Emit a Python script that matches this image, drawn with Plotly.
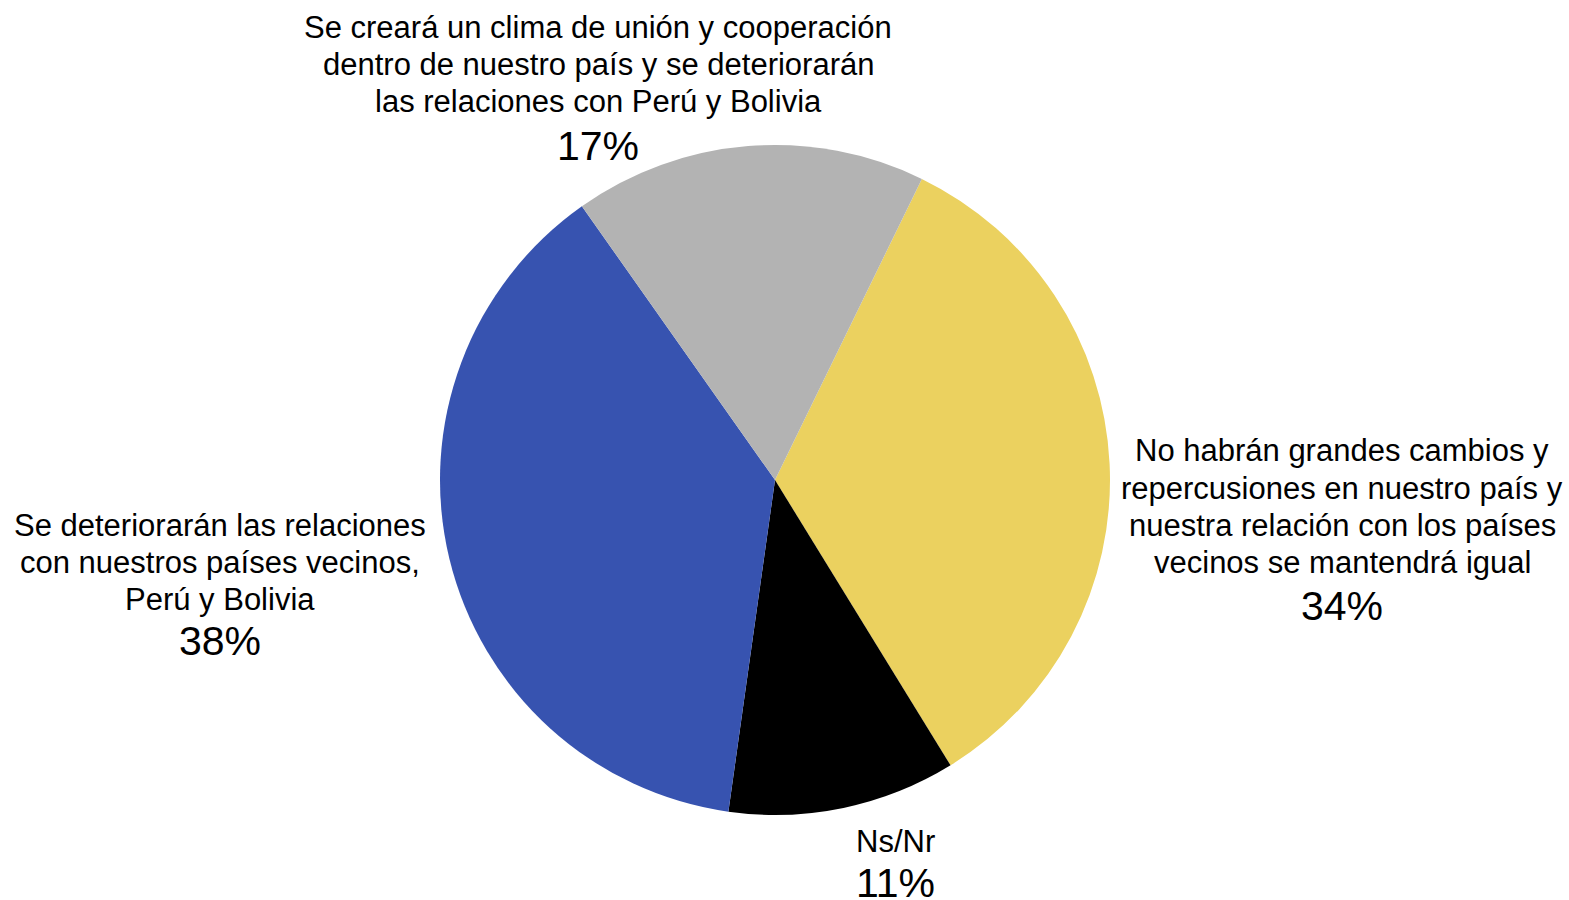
import plotly.graph_objects as go

labels = [
    ["No habrán grandes cambios y", "repercusiones en nuestro país y",
     "nuestra relación con los países", "vecinos se mantendrá igual"],
    ["Ns/Nr"],
    ["Se deteriorarán las relaciones", "con nuestros países vecinos,", "Perú y Bolivia"],
    ["Se creará un clima de unión y cooperación",
     "dentro de nuestro país y se deteriorarán",
     "las relaciones con Perú y Bolivia"],
]
values = [34, 11, 38, 17]
colors = ["#EBD15F", "#000000", "#3753B0", "#B3B3B3"]

W, H = 1569, 900
# first-line centre (px) and percentage centre (px) for each label block
label_pos = [(1342, 451), (895, 841), (220, 525), (598, 28)]
pct_pos = [(1342, 606), (895, 883), (220, 641), (598, 146)]
LINE = 37

fig = go.Figure()
fig.add_trace(go.Pie(
    labels=[" ".join(l) for l in labels],
    values=values,
    marker=dict(colors=colors, line=dict(width=0)),
    sort=False,
    direction="clockwise",
    rotation=26,
    textinfo="none",
    hoverinfo="label+percent",
    showlegend=False,
    domain=dict(x=[440 / W, 1110 / W], y=[85 / H, 755 / H]),
))

annotations = []
for lab, val, (lx, ly), (px, py) in zip(labels, values, label_pos, pct_pos):
    for i, line in enumerate(lab):
        annotations.append(dict(
            x=lx / W, y=1 - (ly + i * LINE) / H, xref="paper", yref="paper",
            text=line, showarrow=False, xanchor="center", yanchor="middle",
            font=dict(size=31, color="#000000"),
        ))
    annotations.append(dict(
        x=px / W, y=1 - py / H, xref="paper", yref="paper",
        text=f"{val}%", showarrow=False, xanchor="center", yanchor="middle",
        font=dict(size=41, color="#000000"),
    ))

fig.update_layout(
    width=W, height=H,
    margin=dict(l=0, r=0, t=0, b=0),
    paper_bgcolor="white", plot_bgcolor="white",
    font=dict(family="Liberation Sans, Arial, sans-serif", color="#000000"),
    annotations=annotations,
)

fig.write_html(
    "out.html",
    config={"displayModeBar": False},
    post_script="document.body.style.margin='0';document.body.style.overflow='hidden';",
)
